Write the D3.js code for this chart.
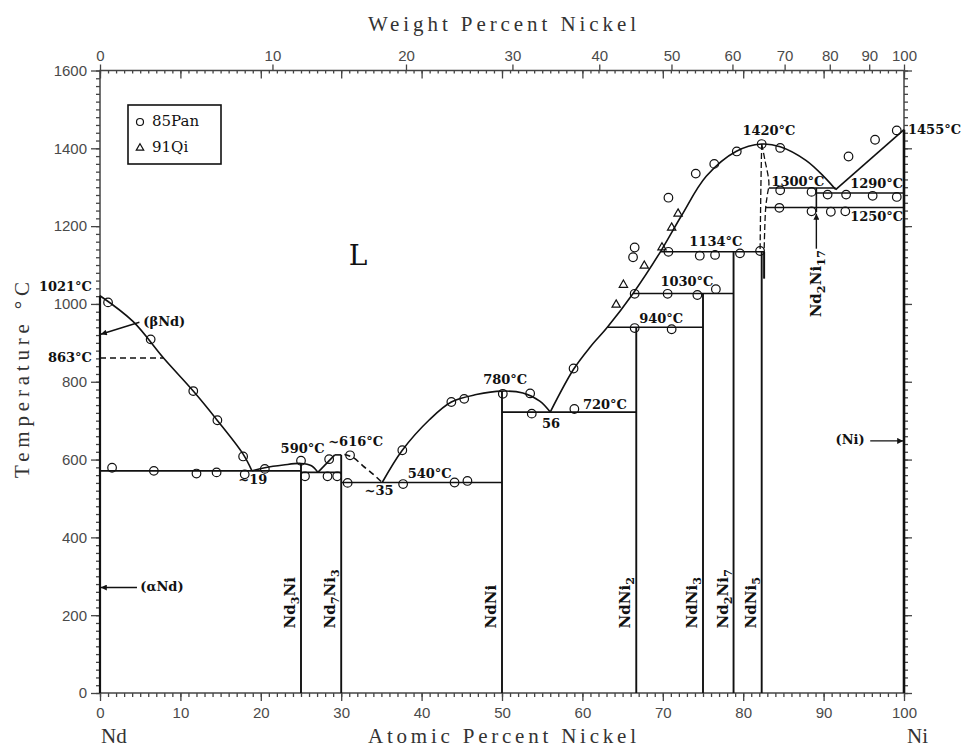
<!DOCTYPE html>
<html>
<head>
<meta charset="utf-8">
<script src="https://cdn.jsdelivr.net/npm/d3@7"></script>
<style>
  body { margin: 0; background: #fff; }
  .tick text { font-family: "Liberation Sans", sans-serif; font-size: 15px; fill: #4a4a4a; }
  .tick line { stroke: #444; stroke-width: 1.3; }
  .note { font-family: "DejaVu Serif", serif; font-size: 13px; font-weight: bold; fill: #111; }
  .title { font-family: "Liberation Serif", serif; font-size: 21px; fill: #333; }
</style>
</head>
<body>
<svg id="chart" width="962" height="749"></svg>
<script>
// axis ticks
const atomicTicks = d3.range(0, 101, 10);
const weightTicks = [0, 10, 20, 30, 40, 50, 60, 70, 80, 90, 100];
const tempTicks = d3.range(0, 1601, 200);

// liquidus branches, [at.% Ni, °C]
const liqBetaNd = [[0, 1021], [4.1, 955], [7.9, 861], [11.6, 776], [14.5, 703], [17.8, 614], [18.9, 571]];
const liqNd3Ni = [[18.9, 571], [20.5, 579], [22.8, 586], [25, 590], [26.3, 584], [27.1, 567]];
const liqNd7Ni3 = [[27.1, 567], [29.2, 612]];
const liqNd7Ni3Dashed = [[30.4, 613], [31.5, 605], [32.7, 584], [34, 562], [35.1, 541]];
const liqNdNi = [[35.1, 541], [37.6, 624], [41, 703], [43.7, 748], [46.8, 767], [50, 776],
                 [52.6, 771], [54.7, 750], [56, 722]];
const liqNdNi5 = [[56, 722], [58.9, 832], [61, 890], [63.1, 940], [66.3, 1027], [69.7, 1134],
                  [72.3, 1226], [75.4, 1328], [79.1, 1392], [82.3, 1411], [84.6, 1404],
                  [87.8, 1369], [90.1, 1326], [91.5, 1294]];
const liqNi = [[91.5, 1294], [100, 1448]];

// horizontal invariant lines: [from at.%, to at.%, °C]
const isotherms = [[0, 25, 571], [25, 30, 567], [29.2, 30, 612], [30, 50, 541], [50, 66.7, 722],
                   [63.1, 75, 940], [66.3, 78.8, 1027], [69.7, 82.6, 1134],
                   [83.2, 91.5, 1298], [89.1, 100, 1285], [82.8, 100, 1248]];
const betaNdTransition = [[0, 861], [7.9, 861]];

// line compounds
const compoundNames = ["Nd3Ni", "Nd7Ni3", "NdNi", "NdNi2", "NdNi3", "Nd2Ni7", "NdNi5"];
const compoundAt = [25, 30, 50, 66.7, 75, 78.8, 82.3];
const compoundTop = [590, 612, 776, 940, 1027, 1134, 1134];

// NdNi5 homogeneity range
const ndNi5Left = [[82.3, 1411], [82.2, 1300], [82.1, 1134]];
const ndNi5Right = [[82.3, 1411], [82.7, 1370], [83.2, 1310], [83.0, 1280], [82.8, 1248], [82.6, 1134]];
const ndNi5Solid = [[82.6, 1134], [82.6, 1065]];
const nd2Ni17 = [[89.1, 1236], [89.1, 1298]];

// experimental points
const pan85 = [[1.0, 1004], [6.3, 909], [11.6, 776], [14.6, 701], [17.8, 608],
  [1.5, 579], [6.7, 571], [12.0, 564], [14.5, 567], [18.0, 562], [20.5, 576],
  [25.0, 597], [25.5, 557], [28.3, 557], [29.5, 557], [28.5, 601], [31.1, 611],
  [30.8, 540], [37.7, 537], [44.1, 541], [45.7, 545], [37.6, 624], [43.7, 748],
  [45.3, 756], [50.1, 769], [53.5, 770], [53.7, 718], [59.0, 730], [58.9, 834],
  [82.3, 1411], [84.6, 1401], [79.2, 1392], [76.4, 1360], [74.1, 1335], [70.7, 1273],
  [66.5, 1145], [66.3, 1120], [96.4, 1422], [99.1, 1446], [93.1, 1379],
  [84.6, 1292], [88.5, 1288], [90.5, 1281], [92.8, 1281], [96.1, 1278], [99.1, 1275],
  [84.5, 1247], [88.5, 1238], [90.9, 1237], [92.7, 1238],
  [70.7, 1134], [74.6, 1124], [76.5, 1126], [79.6, 1130], [82.1, 1136],
  [66.5, 1026], [70.6, 1026], [74.3, 1023], [76.6, 1038], [66.5, 938], [71.1, 935]];
const qi91 = [[71.9, 1232], [71.1, 1196], [69.9, 1145], [67.7, 1098], [65.1, 1049], [64.2, 998]];

const svg = d3.select("#chart");
const x = d3.scaleLinear().domain([0, 100]).range([100, 904]);
const y = d3.scaleLinear().domain([0, 1600]).range([693, 70.5]);

function wtToAt(w) {
    const ni = w / 58.69, nd = (100 - w) / 144.24;
    return 100 * ni / (ni + nd);
}

const defs = svg.append("defs");
defs.append("marker")
    .attr("id", "arrow")
    .attr("viewBox", "0 0 10 10")
    .attr("refX", 10).attr("refY", 5)
    .attr("markerWidth", 11).attr("markerHeight", 6)
    .attr("markerUnits", "userSpaceOnUse")
    .attr("orient", "auto")
    .append("path").attr("d", "M0,0L10,5L0,10z").attr("fill", "#111");

// ---- axes
function addAxis(axis, tx, ty) {
    const g = svg.append("g").attr("transform", `translate(${tx},${ty})`).call(axis);
    g.select(".domain").remove();
    g.attr("font-family", null).attr("font-size", null);
    return g;
}
const minorAt = d3.range(0, 101, 1);
const minorT = d3.range(0, 1601, 20);
const fmt = d3.format("d");

addAxis(d3.axisBottom(x).tickValues(minorAt).tickSize(4).tickFormat(""), 0, 693);
addAxis(d3.axisBottom(x).tickValues(atomicTicks).tickSize(8).tickPadding(6).tickFormat(fmt), 0, 693);
addAxis(d3.axisTop(x).tickValues(minorAt).tickSize(-3).tickFormat(""), 0, 70.5);
addAxis(d3.axisTop(x).tickValues(atomicTicks).tickSize(-8).tickFormat(""), 0, 70.5);
const wtLabel = new Map(weightTicks.map(w => [wtToAt(w), w]));
addAxis(d3.axisTop(x).tickValues(weightTicks.map(wtToAt)).tickSize(6).tickPadding(4)
    .tickFormat(d => wtLabel.get(d)), 0, 70.5);
addAxis(d3.axisLeft(y).tickValues(minorT).tickSize(4).tickFormat(""), 100, 0);
addAxis(d3.axisLeft(y).tickValues(tempTicks).tickSize(9).tickPadding(4).tickFormat(fmt), 100, 0);
addAxis(d3.axisRight(y).tickValues(minorT).tickSize(4).tickFormat(""), 904, 0);
addAxis(d3.axisRight(y).tickValues(tempTicks).tickSize(8).tickFormat(""), 904, 0);

svg.append("rect")
    .attr("x", x(0)).attr("y", y(1600))
    .attr("width", x(100) - x(0)).attr("height", y(0) - y(1600))
    .attr("fill", "none").attr("stroke", "#444").attr("stroke-width", 1.5);

// ---- phase boundaries
const curve = d3.line().x(d => x(d[0])).y(d => y(d[1])).curve(d3.curveCatmullRom.alpha(0.5));
const straight = d3.line().x(d => x(d[0])).y(d => y(d[1]));
const plot = svg.append("g").attr("fill", "none").attr("stroke", "#111").attr("stroke-width", 1.6);

[liqBetaNd, liqNd3Ni, liqNdNi, liqNdNi5].forEach(d => plot.append("path").attr("d", curve(d)));
[liqNd7Ni3, liqNi, nd2Ni17].forEach(d => plot.append("path").attr("d", straight(d)));
plot.append("path").attr("d", curve(liqNd7Ni3Dashed)).attr("stroke-dasharray", "6,4");
plot.append("path").attr("d", straight(betaNdTransition)).attr("stroke-dasharray", "6,4");
[ndNi5Left, ndNi5Right].forEach(d =>
    plot.append("path").attr("d", curve(d)).attr("stroke-dasharray", "6,3").attr("stroke-width", 1.3));
plot.append("path").attr("d", straight(ndNi5Solid)).attr("stroke-width", 2);

plot.selectAll(".iso").data(isotherms).enter().append("line")
    .attr("x1", d => x(d[0])).attr("x2", d => x(d[1]))
    .attr("y1", d => y(d[2])).attr("y2", d => y(d[2]));

plot.selectAll(".cmp").data(compoundAt).enter().append("line")
    .attr("stroke-width", 1.9)
    .attr("x1", d => x(d)).attr("x2", d => x(d))
    .attr("y1", y(0)).attr("y2", (d, i) => y(compoundTop[i]));

// pure Ni and pure Nd sides
plot.append("line").attr("stroke-width", 2.6)
    .attr("x1", x(100)).attr("x2", x(100)).attr("y1", y(0)).attr("y2", y(1448));
plot.append("line").attr("stroke-width", 2.2)
    .attr("x1", x(0)).attr("x2", x(0)).attr("y1", y(0)).attr("y2", y(1021));

// arrows
const arrows = [[[4.9, 953], [0.1, 922]], [[4.6, 271], [0.1, 271]],
                [[95.8, 648], [99.9, 648]], [[89.1, 1142], [89.1, 1232]]];
plot.selectAll(".arr").data(arrows).enter().append("path")
    .attr("d", d => straight(d)).attr("stroke-width", 1.4)
    .attr("marker-end", "url(#arrow)");

// ---- data points
svg.append("g").selectAll("circle").data(pan85).enter().append("circle")
    .attr("cx", d => x(d[0])).attr("cy", d => y(d[1])).attr("r", 4.3)
    .attr("fill", "none").attr("stroke", "#111").attr("stroke-width", 1.2);
const tri = d3.symbol(d3.symbolTriangle).size(30);
svg.append("g").selectAll("path").data(qi91).enter().append("path")
    .attr("d", tri)
    .attr("transform", d => `translate(${x(d[0])},${y(d[1])})`)
    .attr("fill", "none").attr("stroke", "#111").attr("stroke-width", 1.2);

// ---- legend
const legend = svg.append("g");
legend.append("rect").attr("x", 128).attr("y", 105).attr("width", 93).attr("height", 59)
    .attr("fill", "none").attr("stroke", "#111").attr("stroke-width", 1.6);
legend.append("circle").attr("cx", 140).attr("cy", 122).attr("r", 3.5)
    .attr("fill", "none").attr("stroke", "#111").attr("stroke-width", 1.2);
legend.append("path").attr("d", d3.symbol(d3.symbolTriangle).size(24))
    .attr("transform", "translate(140,148)")
    .attr("fill", "none").attr("stroke", "#111").attr("stroke-width", 1.2);
legend.append("text").attr("class", "note").attr("x", 152).attr("y", 122)
    .attr("dominant-baseline", "middle").style("font-size", "15px").style("font-weight", "normal").text("85Pan");
legend.append("text").attr("class", "note").attr("x", 152).attr("y", 148)
    .attr("dominant-baseline", "middle").style("font-size", "15px").style("font-weight", "normal").text("91Qi");

// ---- annotations
const notes = [
    ["1021°C", -1.0, 1042, "end"], ["863°C", -1.0, 860, "end"],
    ["(βNd)", 8.0, 952, "middle"], ["(αNd)", 7.7, 271, "middle"], ["(Ni)", 93.3, 648, "middle"],
    ["~19", 19.0, 545, "middle"], ["590°C", 25.2, 625, "middle"], ["~616°C", 31.8, 643, "middle"],
    ["~35", 34.7, 517, "middle"], ["540°C", 41.0, 561, "middle"], ["780°C", 50.4, 804, "middle"],
    ["56", 56.1, 691, "middle"], ["720°C", 62.8, 740, "middle"], ["940°C", 69.8, 960, "middle"],
    ["1030°C", 73.0, 1055, "middle"], ["1134°C", 76.6, 1157, "middle"],
    ["1420°C", 83.2, 1444, "middle"], ["1300°C", 86.8, 1311, "middle"],
    ["1290°C", 96.6, 1306, "middle"], ["1250°C", 96.6, 1221, "middle"],
    ["1455°C", 100.5, 1446, "start"]
];
svg.append("g").selectAll("text").data(notes).enter().append("text")
    .attr("class", "note")
    .attr("x", d => x(d[1])).attr("y", d => y(d[2]))
    .attr("text-anchor", d => d[3])
    .attr("dominant-baseline", "middle")
    .text(d => d[0]);

svg.append("text").attr("class", "note").attr("x", 358).attr("y", 265)
    .attr("text-anchor", "middle").style("font-size", "28px").style("font-weight", "normal").text("L");

function formula(sel, name, size) {
    let sub = false;
    name.split(/(\d+)/).filter(s => s).forEach(part => {
        const isNum = /\d/.test(part);
        const t = sel.append("tspan").text(part);
        if (isNum) { t.attr("font-size", size * 0.75); if (!sub) t.attr("dy", 4); sub = true; }
        else if (sub) { t.attr("dy", -4); sub = false; }
    });
}

compoundNames.forEach((name, i) => {
    const t = svg.append("text").attr("class", "note").style("font-size", "15px")
        .attr("transform", `translate(${x(compoundAt[i]) - 6},${y(166)}) rotate(-90)`);
    formula(t, name, 15);
});
const n17 = svg.append("text").attr("class", "note").style("font-size", "15px")
    .attr("text-anchor", "end")
    .attr("transform", `translate(${x(89.1) + 5},${y(1138)}) rotate(-90)`);
formula(n17, "Nd2Ni17", 15);

// ---- titles
svg.append("text").attr("class", "title").attr("x", 368).attr("y", 31)
    .attr("textLength", 268).attr("lengthAdjust", "spacing").text("Weight Percent Nickel");
svg.append("text").attr("class", "title").attr("x", 368).attr("y", 743)
    .attr("textLength", 268).attr("lengthAdjust", "spacing").text("Atomic Percent Nickel");
svg.append("text").attr("class", "title")
    .attr("transform", "translate(29,478) rotate(-90)")
    .attr("textLength", 196).attr("lengthAdjust", "spacing").text("Temperature °C");
svg.append("text").attr("class", "title").attr("x", 101).attr("y", 743).style("font-size", "21px").text("Nd");
svg.append("text").attr("class", "title").attr("x", 907).attr("y", 743).style("font-size", "21px").text("Ni");
</script>
</body>
</html>
